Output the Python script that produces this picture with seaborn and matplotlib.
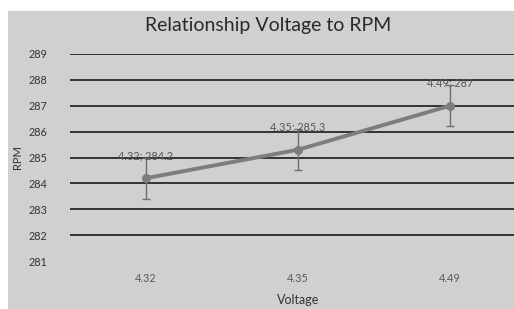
import matplotlib
matplotlib.use("Agg")
import matplotlib.pyplot as plt
import seaborn as sns
import pandas as pd
from matplotlib.patches import Rectangle

voltage = ["4.32", "4.35", "4.49"]
rpm = [284.2, 285.3, 287.0]
rpm_err = [0.8, 0.8, 0.8]
y_ticks = [281, 282, 283, 284, 285, 286, 287, 288, 289]

sns.set_style("white")
plt.rcParams["font.family"] = ["Lato", "DejaVu Sans"]

W, H = 514, 309
fig = plt.figure(figsize=(W / 100, H / 100), dpi=100, facecolor="white")
bg = Rectangle((8 / W, 0), 1.5, 1 - 11 / H, transform=fig.transFigure,
               facecolor="#d0d0d0", edgecolor="none", zorder=-10)
fig.patches.append(bg)

ax = fig.add_axes([70 / W, (H - 261) / H, 456 / W, 207 / H])
ax.set_zorder(5)
ax.set_facecolor("none")

df = pd.DataFrame({"Voltage": voltage, "RPM": rpm})
for yv in y_ticks[1:]:
    ax.axhline(yv, color="#333333", lw=1.4, zorder=1)
ax.axhline(y_ticks[0], color="#e4e4e4", lw=1.0, zorder=1)

ax.errorbar(df["Voltage"], df["RPM"], yerr=rpm_err, fmt="none", ecolor="#6e6e6e",
            elinewidth=1.0, capsize=3, capthick=1.0, zorder=3)
sns.lineplot(data=df, x="Voltage", y="RPM", ax=ax, color="#7d7d7d", lw=2.8,
             marker="o", markersize=6.5, markeredgewidth=0, sort=False, zorder=4)

for v, r in zip(voltage, rpm):
    lab = f"{v}; {r:g}"
    ax.annotate(lab, (v, r), xytext=(0, 17), textcoords="offset pixels",
                ha="center", va="bottom", fontsize=7.8, color="#555555", zorder=5)

ax.set_xlim(-0.5, 2.5)
ax.set_ylim(281, 289)
ax.set_yticks(y_ticks)
ax.tick_params(axis="y", labelsize=7.8, labelcolor="#333333", length=0, pad=16)
ax.tick_params(axis="x", labelsize=7.8, labelcolor="#5a5a5a", length=0, pad=9)
for s in ax.spines.values():
    s.set_visible(False)

ax.set_xlabel("Voltage", fontsize=9, color="#333333", labelpad=7)
ax.set_ylabel("RPM", fontsize=8, color="#333333", labelpad=4)
ax.yaxis.set_label_coords(-47 / 456, 0.5)

fig.text(268 / W, (H - 25) / H, "Relationship Voltage to RPM", ha="center", va="center",
         fontsize=14, color="#2a2a2a", zorder=6)

fig.savefig("out.png", dpi=100, facecolor="white")
